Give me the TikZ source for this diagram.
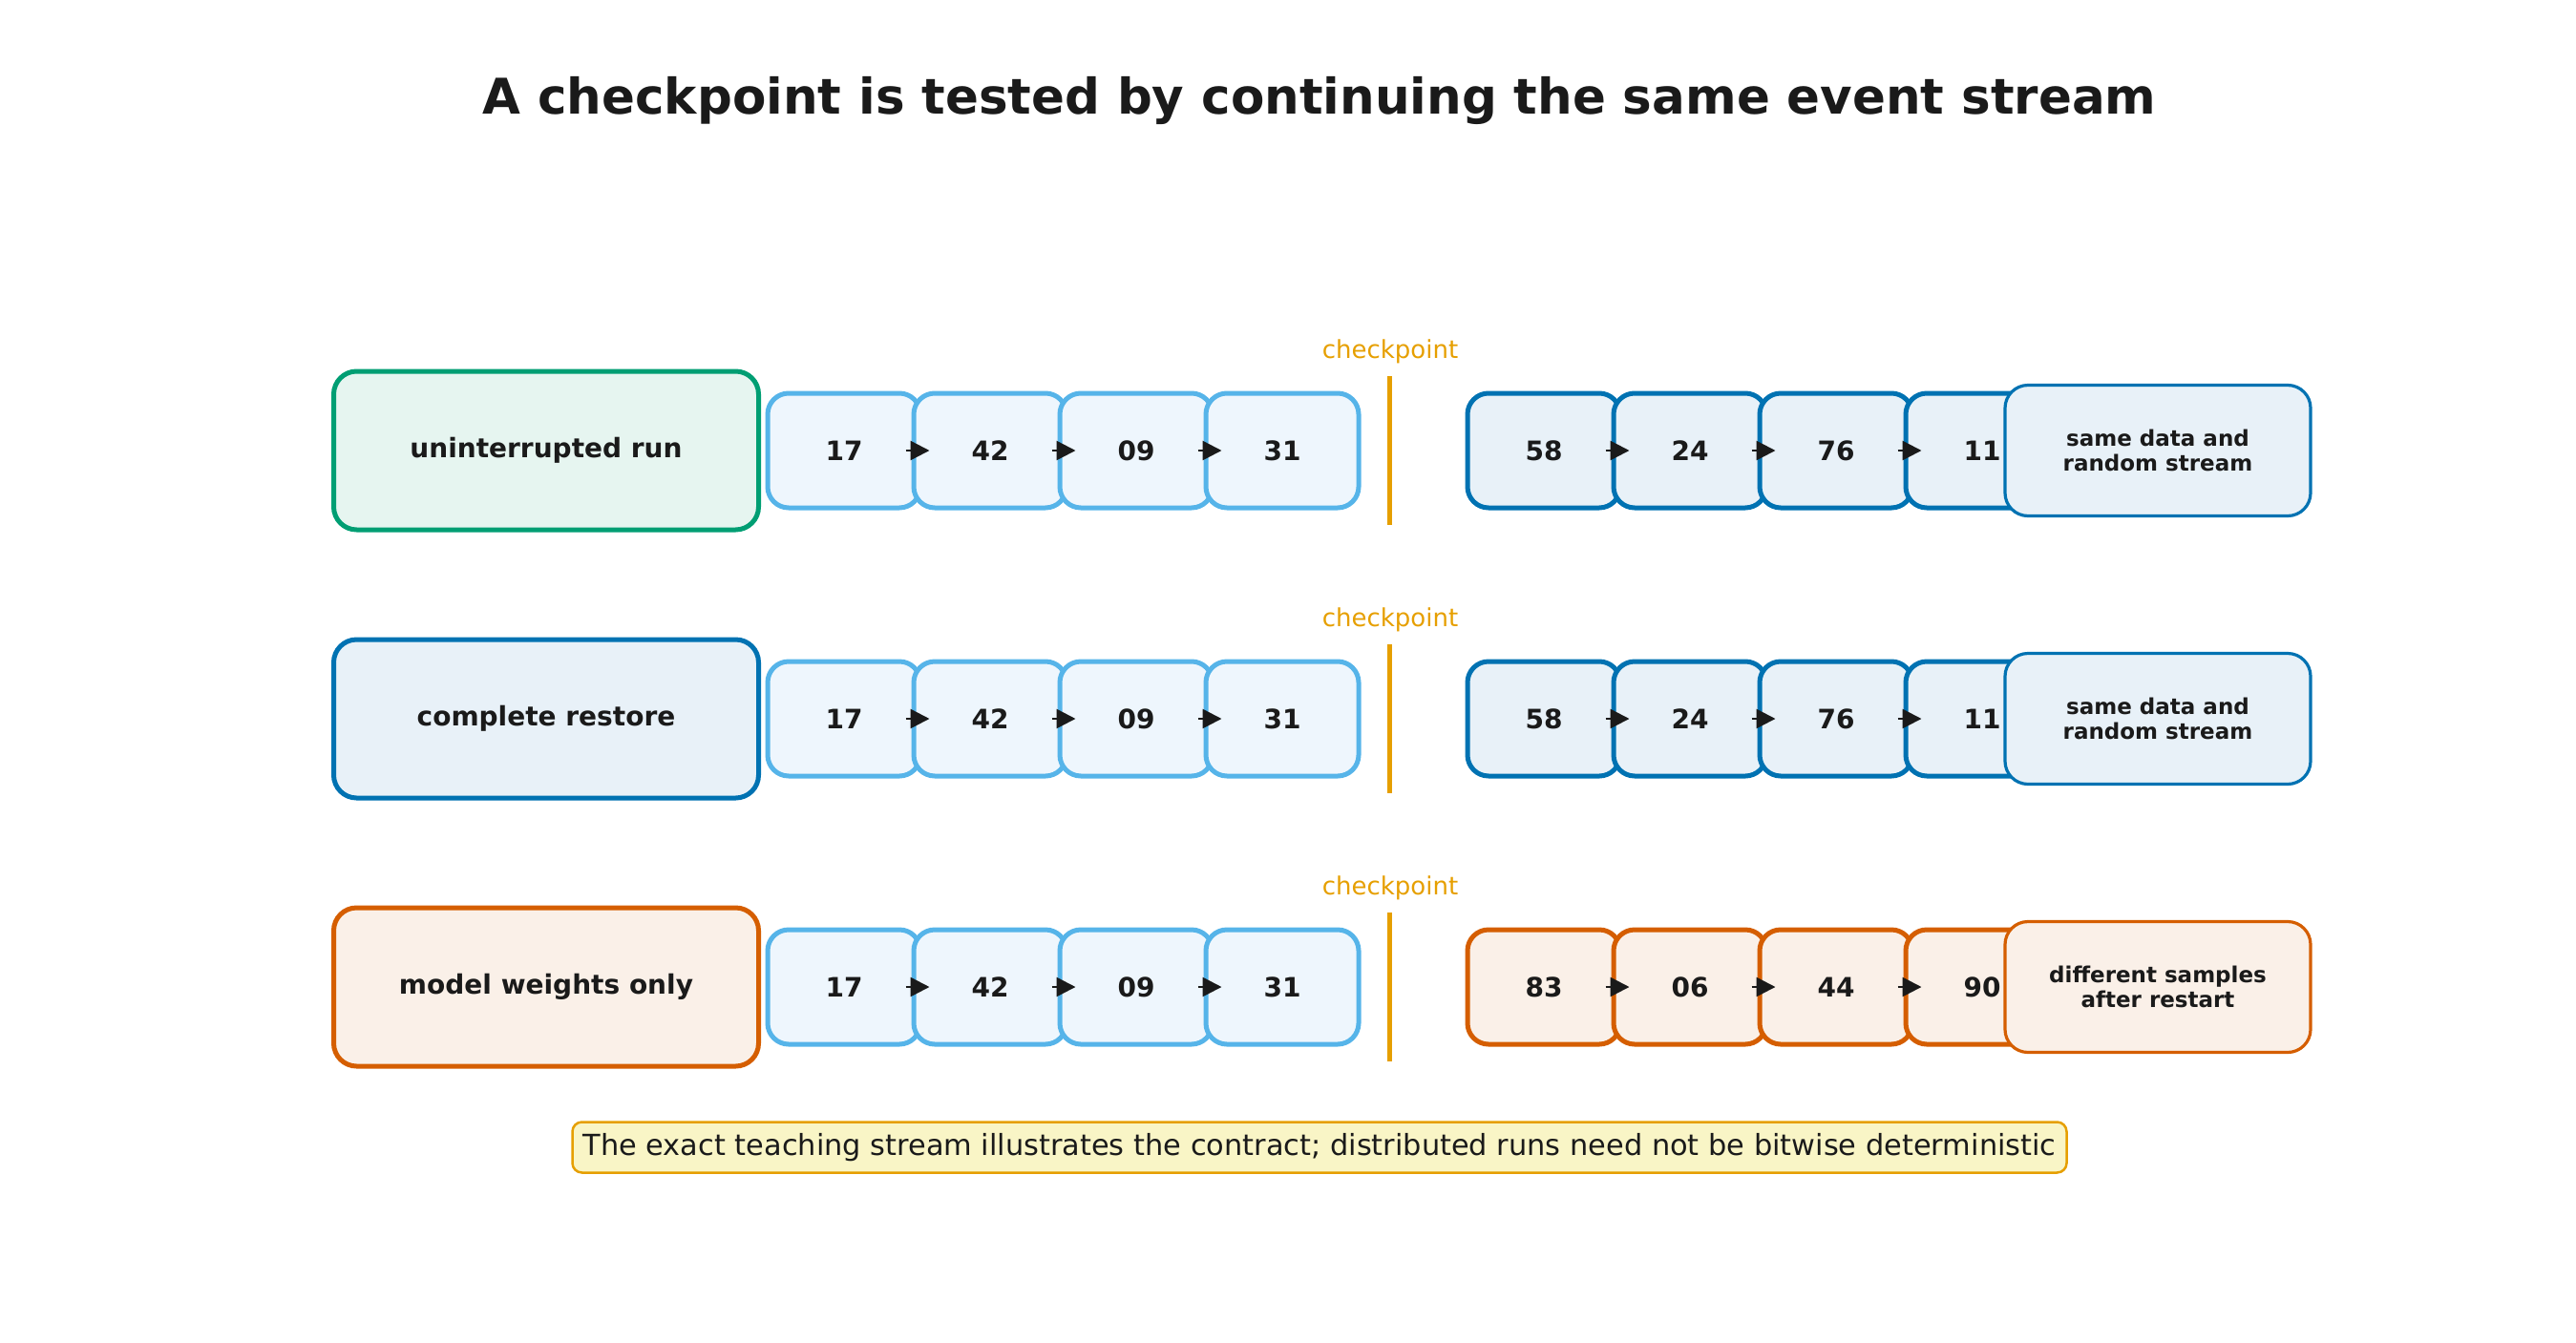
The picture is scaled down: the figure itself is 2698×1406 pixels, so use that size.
\documentclass[tikz,border=0pt]{standalone}
\usepackage{fontspec}
\setmainfont{DejaVu Sans}
\usetikzlibrary{arrows.meta}
\definecolor{ink}{HTML}{1A1A1A}
\definecolor{cgreen}{HTML}{009E73}
\definecolor{cgreenf}{HTML}{E6F5F0}
\definecolor{cblue}{HTML}{0072B2}
\definecolor{cbluef}{HTML}{E8F1F8}
\definecolor{csky}{HTML}{56B4E9}
\definecolor{cskyf}{HTML}{EEF6FD}
\definecolor{cverm}{HTML}{D55E00}
\definecolor{cvermf}{HTML}{FAF0E8}
\definecolor{corange}{HTML}{E69F00}
\definecolor{cyellow}{HTML}{F9F5C6}
\tikzset{
  lab/.style={draw, rounded corners=24pt, line width=5pt, minimum width=445pt, minimum height=166pt, inner sep=0pt, font=\bfseries\fontsize{28}{34}\selectfont, text=ink},
  cell/.style={draw, rounded corners=22pt, line width=5pt, minimum width=160pt, minimum height=120pt, inner sep=0pt, font=\bfseries\fontsize{28}{34}\selectfont, text=ink},
  res/.style={draw, rounded corners=24pt, line width=3.2pt, minimum width=320pt, minimum height=137pt, inner sep=0pt, align=center, font=\bfseries\fontsize{23}{26}\selectfont, text=ink},
  arr/.style={-{Triangle[length=20pt,width=20pt]}, line width=2.5pt, draw=ink},
  ckline/.style={draw=corange, line width=5pt},
  cklab/.style={text=corange, font=\fontsize{26}{30}\selectfont},
  titlestyle/.style={font=\bfseries\fontsize{51.5}{60}\selectfont, text=ink},
  notestyle/.style={draw=corange, fill=cyellow, rounded corners=10pt, line width=2.5pt, minimum width=1565pt, minimum height=53pt, inner sep=0pt, font=\fontsize{30.4}{34}\selectfont, text=ink},
}
\begin{document}
\begin{tikzpicture}[x=1pt, y=-1pt]
\useasboundingbox (0,0) rectangle (2698,1406);
\node[titlestyle] (title) at (1382,105) {A checkpoint is tested by continuing the same event stream};

\foreach \r/\y/\lab/\lc/\lf/\ac/\af/\na/\nb/\nc/\nd/\rtxt in {
  1/472/uninterrupted run/cgreen/cgreenf/cblue/cbluef/58/24/76/11/{same data and\\random stream},
  2/753/complete restore/cblue/cbluef/cblue/cbluef/58/24/76/11/{same data and\\random stream},
  3/1034/model weights only/cverm/cvermf/cverm/cvermf/83/06/44/90/{different samples\\after restart}}{
  \node[lab, draw=\lc, fill=\lf] (L\r) at (572,\y) {\lab};
  \node[cell, draw=csky, fill=cskyf] (p\r a) at (884,\y) {17};
  \node[cell, draw=csky, fill=cskyf] (p\r b) at (1037,\y) {42};
  \node[cell, draw=csky, fill=cskyf] (p\r c) at (1190,\y) {09};
  \node[cell, draw=csky, fill=cskyf] (p\r d) at (1343,\y) {31};
  \draw[arr] ([xshift=-18pt]p\r a.east) -- ([xshift=19pt]p\r b.west);
  \draw[arr] ([xshift=-18pt]p\r b.east) -- ([xshift=19pt]p\r c.west);
  \draw[arr] ([xshift=-18pt]p\r c.east) -- ([xshift=19pt]p\r d.west);
  \coordinate (k\r t) at (1455,\y-78);
  \coordinate (k\r b) at (1455,\y+78);
  \draw[ckline] (k\r t) -- (k\r b);
  \node[cklab] (kl\r) at (1456,\y-104) {checkpoint};
  \node[cell, draw=\ac, fill=\af] (q\r a) at (1617,\y) {\na};
  \node[cell, draw=\ac, fill=\af] (q\r b) at (1770,\y) {\nb};
  \node[cell, draw=\ac, fill=\af] (q\r c) at (1923,\y) {\nc};
  \node[cell, draw=\ac, fill=\af] (q\r d) at (2076,\y) {\nd};
  \draw[arr] ([xshift=-18pt]q\r a.east) -- ([xshift=19pt]q\r b.west);
  \draw[arr] ([xshift=-18pt]q\r b.east) -- ([xshift=19pt]q\r c.west);
  \draw[arr] ([xshift=-18pt]q\r c.east) -- ([xshift=19pt]q\r d.west);
  \node[res, draw=\ac, fill=\af] (R\r) at (2260,\y) {\rtxt};
}

\node[notestyle] (note) at (1382,1202) {The exact teaching stream illustrates the contract; distributed runs need not be bitwise deterministic};
\end{tikzpicture}
\end{document}
